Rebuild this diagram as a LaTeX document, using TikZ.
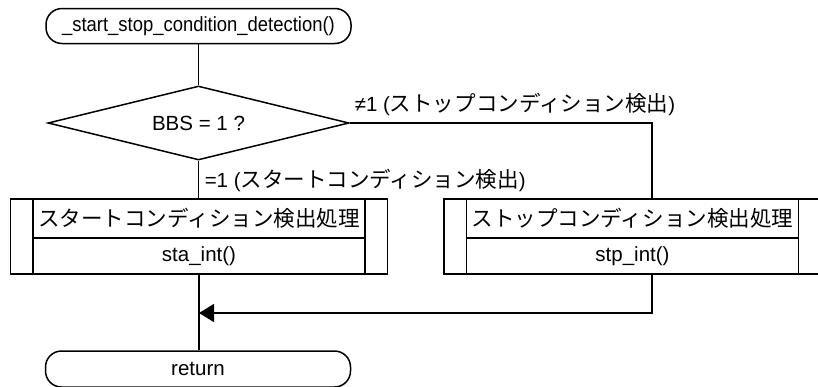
\documentclass[tikz,border=0pt]{standalone}
\usepackage{fontspec}
\setmainfont{Liberation Sans}
\newfontfamily\jp{Noto Sans CJK JP}[Scale=1.05]
\usetikzlibrary{arrows.meta,shapes.geometric}
\begin{document}
\begin{tikzpicture}[x=1pt,y=-1pt,line width=1.5pt,
  every node/.style={font=\fontsize{20.5}{24}\selectfont, inner sep=0pt},
  term/.style={draw, rounded corners=16pt, minimum width=305pt, minimum height=35pt},
  dec/.style={draw, diamond, aspect=4, minimum width=301pt, minimum height=74pt},
  outerbox/.style={draw, minimum width=377pt, minimum height=75pt},
  headbox/.style={draw, minimum width=332pt, minimum height=39pt},
  codebox/.style={draw, minimum width=332pt, minimum height=36pt},
  lbl/.style={anchor=west},
  arr/.style={-{Triangle[length=15pt,width=18pt]}}]
\useasboundingbox (0,0) rectangle (818,386);
% start
\node[term] (start) at (198.5,26) {\scalebox{0.9}[1]{\_start\_stop\_condition\_detection()}};
% decision
\node[dec] (d) at (198.5,123) {BBS = 1 ?};
% left process
\node[outerbox] (Lo) at (199,236.5) {};
\node[headbox] (Lh) at (199,218.5) {\jp スタートコンディション検出処理};
\node[codebox] (Lc) at (199,256) {sta\_int()};
% right process
\node[outerbox] (Ro) at (632.5,236.5) {};
\node[headbox] (Rh) at (632.5,218.5) {\jp ストップコンディション検出処理};
\node[codebox] (Rc) at (632.5,256) {stp\_int()};
% return
\node[term, minimum height=36pt] (ret) at (198,369) {return};
% labels
\node[lbl] (ne) at (354,104) {≠1 ({\jp ストップコンディション検出})};
\node[lbl] (eq) at (204,180) {=1 ({\jp スタートコンディション検出})};
% connectors
\coordinate (rj) at (652,199);
\coordinate (rb) at (652,274);
\coordinate (mj) at (199,313);
\draw (start) -- (d);
\draw (d.south) -- (d.south |- Lo.north);
\draw (d.east) -| (rj);
\draw (Lo.south) -- (Lo.south |- ret.north);
\draw[arr] (rb) |- (mj);
\end{tikzpicture}
\end{document}
